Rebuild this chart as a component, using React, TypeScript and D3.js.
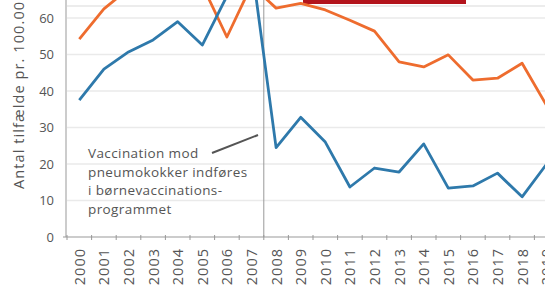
import React from 'react';
import * as d3 from 'd3';

const years = ['2000', '2001', '2002', '2003', '2004', '2005', '2006', '2007', '2008', '2009',
  '2010', '2011', '2012', '2013', '2014', '2015', '2016', '2017', '2018', '2019'];
// blue series
const children = [37.5, 46, 50.7, 54, 59, 52.6, 66, 75, 24.5, 32.8, 26, 13.7, 18.9, 17.8, 25.5, 13.4, 14, 17.5, 11, 20];
// orange series
const elderly = [54.2, 62.5, 68, 69, 68, 69, 54.8, 69, 62.7, 64, 62.2, 59.4, 56.4, 48, 46.6, 49.9, 43, 43.5, 47.6, 36];
const yTicks = [0, 10, 20, 30, 40, 50, 60];
const noteLines = ['Vaccination mod', 'pneumokokker indføres', 'i børnevaccinations-', 'programmet'];

const W = 545;
const H = 293;
const left = 67;
const bottom = 237;
const band = 24.6;

export default function App() {
  const x = d3.scaleBand<string>().domain(years).range([left, left + band * years.length]).padding(0);
  const y = d3.scaleLinear().domain([0, 60]).range([bottom, 18]);
  const cx = (d: string) => (x(d) as number) + x.bandwidth() / 2;

  const line = d3.line<number>()
    .x((_, i) => cx(years[i]))
    .y(d => y(d));

  const split = x('2008') as number;
  const font = '"Open Sans", sans-serif';

  return (
    <svg width={W} height={H} style={{ position: 'absolute', left: 0, top: 0, background: '#fff' }}>
      <defs>
        <clipPath id="plot">
          <rect x={left - 1} y={0} width={W} height={bottom} />
        </clipPath>
      </defs>
      <rect width={W} height={H} fill="#fff" />
      <line x1={left} x2={W} y1={6} y2={6} stroke="#e6e6e6" strokeWidth={1.5} />
      {yTicks.filter(t => t > 0).map(t => (
        <line key={t} x1={left} x2={W} y1={y(t)} y2={y(t)} stroke="#eaeaea" strokeWidth={1.5} />
      ))}
      <rect x={303} y={0} width={163} height={4} fill="#b3141c" />
      <line x1={split} x2={split} y1={0} y2={bottom} stroke="#999" strokeWidth={1} />
      <line x1={left - 1} x2={left - 1} y1={0} y2={bottom} stroke="#999" strokeWidth={1} />
      <line x1={left - 4} x2={W} y1={bottom} y2={bottom} stroke="#999" strokeWidth={1.2} />
      {years.map(d => (
        <line key={d} x1={x(d) as number} x2={x(d) as number} y1={bottom - 2} y2={bottom + 3} stroke="#999" />
      ))}
      <g clipPath="url(#plot)" fill="none" strokeWidth={2.8} strokeLinejoin="round">
        <path d={line(elderly) as string} stroke="#ee6c2e" />
        <path d={line(children) as string} stroke="#2e79ab" />
      </g>
      {yTicks.map(t => (
        <text key={t} x={54} y={y(t)} dy="0.35em" textAnchor="end" fontFamily={font} fontSize={13} fill="#555">
          {t}
        </text>
      ))}
      {years.map(d => (
        <text key={d} transform={`translate(${cx(d) + 5.5},248) rotate(-90)`} textAnchor="end"
          fontFamily={font} fontSize={14.5} letterSpacing={1} fill="#555">
          {d}
        </text>
      ))}
      <text transform={`translate(24,189) rotate(-90)`} fontFamily={font} fontSize={14.5} letterSpacing={1.1} fill="#555">
        Antal tilfælde pr. 100.000
      </text>
      <line x1={212} y1={153} x2={258} y2={135} stroke="#555" strokeWidth={2} />
      {noteLines.map((s, i) => (
        <text key={s} x={88} y={158 + i * 18.7} fontFamily={font} fontSize={13.5} letterSpacing={0.4} fill="#555">
          {s}
        </text>
      ))}
    </svg>
  );
}
